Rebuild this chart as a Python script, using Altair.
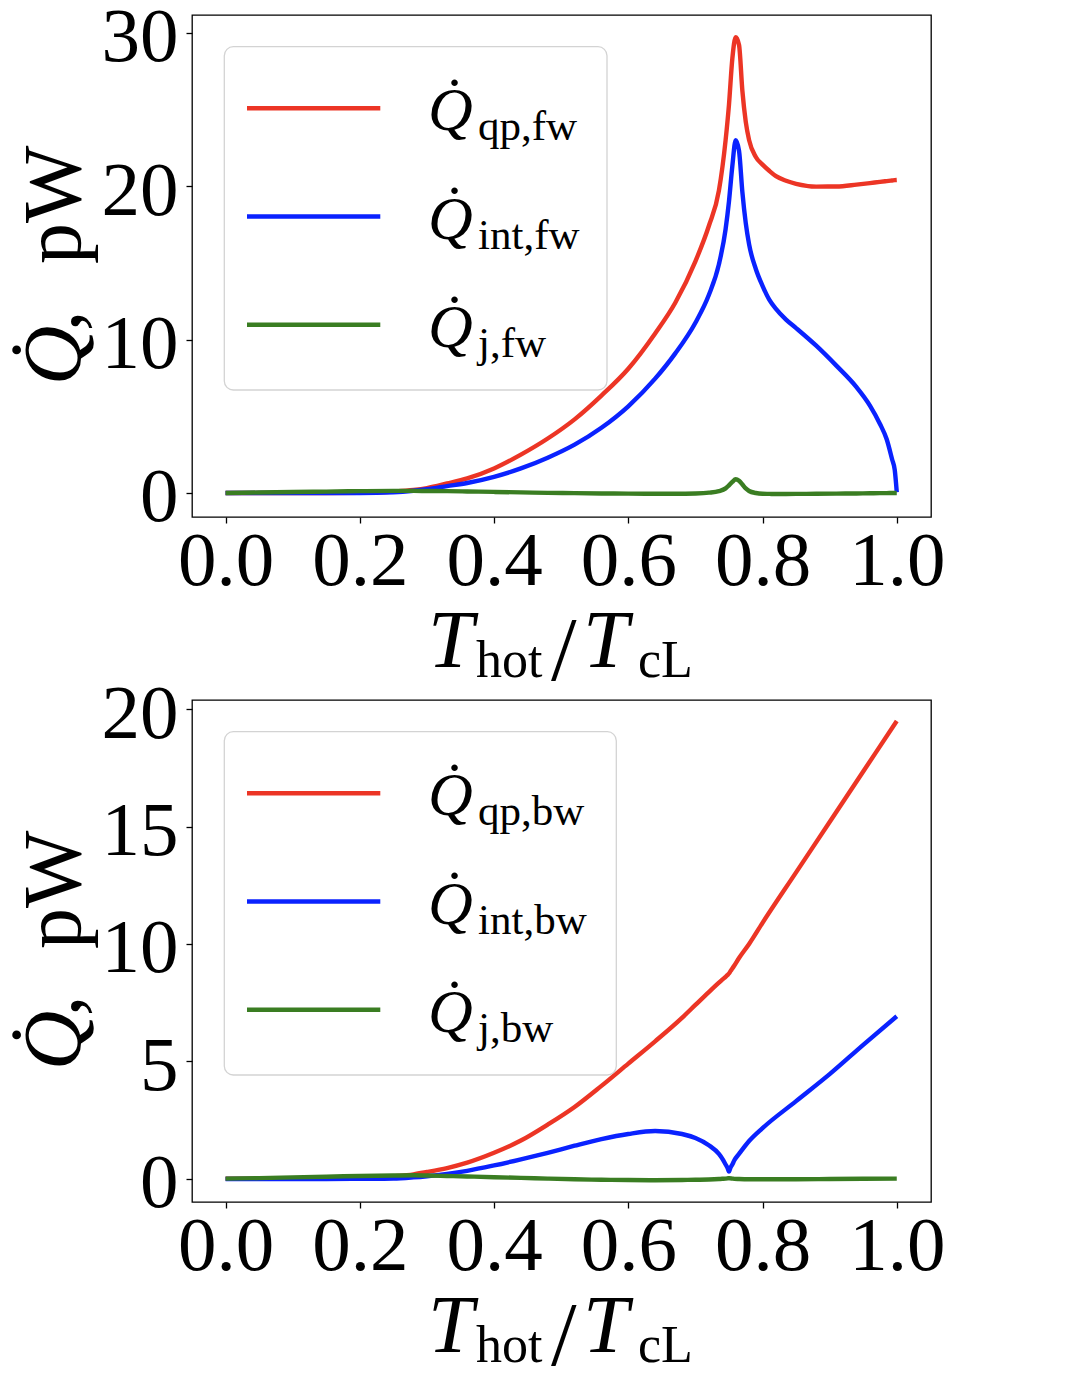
import altair as alt
import pandas as pd

# ---------------- data ----------------
# forward panel (top)
x_fw = [0.0, 0.05, 0.1, 0.15, 0.2, 0.25, 0.28, 0.3, 0.33, 0.36, 0.4, 0.44, 0.48,
        0.52, 0.56, 0.6, 0.64, 0.67, 0.7, 0.72, 0.735, 0.745, 0.75, 0.755, 0.76,
        0.765, 0.77, 0.775, 0.78, 0.79, 0.8, 0.81, 0.82, 0.835, 0.85, 0.88, 0.91,
        0.94, 0.96, 0.975, 0.985, 0.993, 0.997, 1.0]
qp_fw = [0.0, 0.0, 0.0, 0.0, 0.02, 0.1, 0.2, 0.32, 0.62, 0.95, 1.6, 2.5, 3.55,
         4.8, 6.35, 8.1, 10.4, 12.4, 15.1, 17.4, 19.7, 23.0, 25.3, 28.3, 29.7,
         29.2, 26.2, 24.2, 23.0, 21.9, 21.4, 21.0, 20.65, 20.35, 20.15, 19.97, 19.98,
         20.1, 20.2, 20.28, 20.33, 20.37, 20.39, 20.4]
int_fw = [0.0, 0.0, 0.0, 0.0, 0.0, 0.05, 0.15, 0.25, 0.45, 0.65, 1.05, 1.6, 2.3,
          3.15, 4.25, 5.65, 7.45, 9.1, 11.1, 12.9, 14.9, 17.2, 19.0, 21.3, 23.0,
          22.3, 19.6, 17.6, 16.2, 14.6, 13.5, 12.6, 12.0, 11.3, 10.75, 9.6, 8.3,
          6.9, 5.7, 4.5, 3.5, 2.2, 1.5, 0.05]
j_fw = [0.0, 0.03, 0.06, 0.09, 0.12, 0.14, 0.14, 0.13, 0.12, 0.1, 0.07, 0.04, 0.01,
        -0.01, -0.03, -0.04, -0.05, -0.05, -0.03, 0.02, 0.12, 0.3, 0.5, 0.72, 0.9,
        0.8, 0.55, 0.3, 0.13, 0.0, -0.05, -0.06, -0.07, -0.065, -0.06, -0.05, -0.04,
        -0.03, -0.02, -0.01, -0.01, 0.0, 0.0, 0.0]

# backward panel (bottom)
x_bw = [0.0, 0.05, 0.1, 0.15, 0.2, 0.25, 0.28, 0.3, 0.33, 0.36, 0.4, 0.44, 0.48,
        0.52, 0.56, 0.6, 0.64, 0.68, 0.7, 0.72, 0.735, 0.74, 0.745, 0.748, 0.75,
        0.752, 0.755, 0.758, 0.765, 0.78, 0.8, 0.85, 0.9, 0.95, 1.0]
qp_bw = [0.0, 0.0, 0.0, 0.0, 0.02, 0.1, 0.18, 0.28, 0.45, 0.68, 1.1, 1.62, 2.3,
         3.05, 3.95, 4.9, 5.85, 6.85, 7.4, 7.95, 8.35, 8.48, 8.6, 8.68, 8.74,
         8.83, 8.95, 9.08, 9.4, 10.0, 10.9, 13.05, 15.2, 17.35, 19.5]
int_bw = [-0.02, -0.02, -0.02, -0.02, -0.01, 0.0, 0.05, 0.1, 0.2, 0.33, 0.56, 0.82, 1.1,
          1.4, 1.68, 1.9, 2.03, 1.9, 1.73, 1.42, 1.05, 0.85, 0.6, 0.45, 0.3,
          0.45, 0.6, 0.78, 1.05, 1.6, 2.15, 3.3, 4.45, 5.7, 6.92]
j_bw = [0.0, 0.02, 0.05, 0.08, 0.11, 0.13, 0.14, 0.13, 0.11, 0.09, 0.06, 0.03, 0.0,
        -0.03, -0.05, -0.06, -0.07, -0.06, -0.05, -0.04, -0.02, -0.01, 0.0, 0.01, 0.02,
        0.01, 0.0, -0.01, -0.02, -0.03, -0.03, -0.03, -0.02, -0.01, 0.0]

names_fw = ["qp,fw", "int,fw", "j,fw"]
names_bw = ["qp,bw", "int,bw", "j,bw"]
colors = ["#EC3525", "#0A22FF", "#3A7D22"]
x_ticks = [0.0, 0.2, 0.4, 0.6, 0.8, 1.0]
y_ticks_fw = [0, 10, 20, 30]
y_ticks_bw = [0, 5, 10, 15, 20]
y_dom_fw = [-1.565, 31.154]
y_dom_bw = [-0.998, 20.397]

# ---------------- layout ----------------
W, H = 739, 502
FONT = "Liberation Serif"
one = pd.DataFrame({"k": [0]})


def txt(text, x, y, size, italic=False, angle=0):
    kw = dict(text=text, font=FONT, fontSize=size, align="left",
              baseline="alphabetic", color="black")
    if italic:
        kw["fontStyle"] = "italic"
    if angle:
        kw["angle"] = angle
    return alt.Chart(one).mark_text(**kw).encode(x=alt.value(x), y=alt.value(y))


def panel(xs, series, names, ydom, yticks, box_right):
    rows = []
    for name, ys in zip(names, series):
        for xv, yv in zip(xs, ys):
            rows.append({"x": xv, "y": yv, "s": name})
    df = pd.DataFrame(rows)
    xenc = alt.X("x:Q", scale=alt.Scale(domain=[-0.05, 1.051], nice=False, zero=False),
                 axis=alt.Axis(values=x_ticks, format=".1f", title=None,
                               labelFlush=False, labelOverlap=False))
    yenc = alt.Y("y:Q", scale=alt.Scale(domain=ydom, nice=False, zero=False),
                 axis=alt.Axis(values=yticks, format="d", title=None,
                               labelOverlap=False))
    cenc = alt.Color("s:N", scale=alt.Scale(domain=names, range=colors), legend=None)
    layers = []
    for name in names:
        layers.append(
            alt.Chart(df).transform_filter(alt.datum.s == name)
            .mark_line(strokeWidth=4.4, strokeJoin="round", strokeCap="butt",
                       interpolate="monotone")
            .encode(x=xenc, y=yenc, color=cenc)
        )
    # legend frame
    layers.append(
        alt.Chart(one).mark_rect(fill="white", fillOpacity=0.8, stroke="#d3d3d3",
                                 strokeWidth=1.3, cornerRadius=9)
        .encode(x=alt.value(32.3), x2=alt.value(box_right),
                y=alt.value(31.7), y2=alt.value(375))
    )
    for i, (name, col) in enumerate(zip(names, colors)):
        ly = 93.3 + 108.2 * i
        layers.append(
            alt.Chart(one).mark_rule(color=col, strokeWidth=4.5)
            .encode(x=alt.value(55), x2=alt.value(188.3), y=alt.value(ly))
        )
        layers.append(txt("Q\u0307", 236, ly + 22, 62, italic=True))
        layers.append(txt(name, 286, ly + 32, 43))
    # x axis title  T_hot / T_cL
    layers.append(txt("T", 236, H + 150, 82, italic=True))
    layers.append(txt("hot", 284, H + 160, 52))
    layers.append(txt("/", 359, H + 163, 92))
    layers.append(txt("T", 391, H + 150, 82, italic=True))
    layers.append(txt("cL", 446, H + 160, 52))
    # y axis title  Q̇, pW (rotated)
    layers.append(txt("Q\u0307", -111.7, 370, 82, italic=True, angle=270))
    layers.append(txt(",", -111.7, 316, 82, angle=270))
    layers.append(txt("pW", -111.7, 249, 82, angle=270))
    return alt.layer(*layers).properties(width=W, height=H)


top = panel(x_fw, [qp_fw, int_fw, j_fw], names_fw, y_dom_fw, y_ticks_fw, 415.0)
bottom = panel(x_bw, [qp_bw, int_bw, j_bw], names_bw, y_dom_bw, y_ticks_bw, 424.3)

chart = (
    alt.vconcat(top, bottom, spacing=183, bounds="flush")
    .properties(padding={"left": 5, "top": -10, "right": 5, "bottom": 2})
    .configure_view(stroke="black", strokeWidth=1.3)
    .configure_axis(labelFont=FONT, labelFontSize=77, labelColor="black",
                    tickColor="black", tickWidth=1.3, tickSize=6,
                    domain=False, grid=False)
    .configure_axisX(labelPadding=0)
    .configure_axisY(labelPadding=8, labelOffset=5)
)

chart.save("out.html", embed_options={"renderer": "svg", "actions": False})
